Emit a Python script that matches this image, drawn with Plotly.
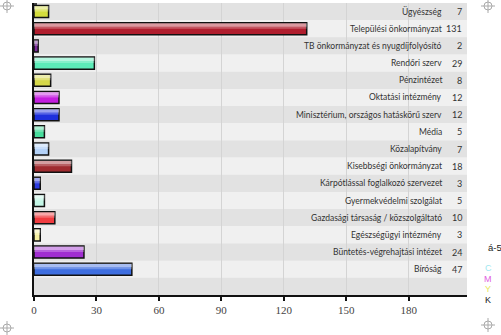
import plotly.graph_objects as go

categories = [
    "Ügyészség", "Települési önkormányzat", "TB önkormányzat és nyugdíjfolyósító",
    "Rendőri szerv", "Pénzintézet", "Oktatási intézmény",
    "Minisztérium, országos hatáskörű szerv", "Média", "Közalapítvány",
    "Kisebbségi önkormányzat", "Kárpótlással foglalkozó szervezet",
    "Gyermekvédelmi szolgálat", "Gazdasági társaság / közszolgáltató",
    "Egészségügyi intézmény", "Büntetés-végrehajtási intézet", "Bíróság",
]
values = [7, 131, 2, 29, 8, 12, 12, 5, 7, 18, 3, 5, 10, 3, 24, 47]
bar_colors = [
    "#d4dc3c", "#b01e2e", "#7a2a9a", "#5cecb8", "#d6d84a", "#c41ee0",
    "#1e30dc", "#48dc9c", "#b4d2f8", "#a02c30", "#2c3ce0", "#c4f6e6",
    "#f03c40", "#f6f0a0", "#a02ed0", "#3e6ee0",
]
tick_vals = [0, 30, 60, 90, 120, 150, 180]

idx = list(range(len(categories)))
n_bands = len(categories) + 1

L, R, T, B = 34, 467, 3, 295
W, H = R - L, B - T


def px(x):
    return (x - L) / W


def py(y):
    return (B - y) / H


fig = go.Figure()
fig.add_trace(go.Bar(
    x=values, y=idx, orientation="h", width=0.7,
    marker=dict(color=bar_colors, line=dict(color="#111", width=1.5)),
    hoverinfo="skip",
))
fig.add_trace(go.Bar(
    x=values, y=idx, orientation="h", width=0.2, offset=-0.32,
    marker=dict(color="rgba(255,255,255,0.55)", line=dict(width=0)),
    hoverinfo="skip",
))
fig.add_trace(go.Bar(
    x=values, y=idx, orientation="h", width=0.12, offset=-0.12,
    marker=dict(color="rgba(255,255,255,0.25)", line=dict(width=0)),
    hoverinfo="skip",
))

shapes = []
for i in range(n_bands):
    shapes.append(dict(
        type="rect", xref="paper", yref="y", x0=0, x1=1, y0=i - 0.5, y1=i + 0.5,
        fillcolor="#e2e2e2" if i % 2 == 0 else "#f0f0f0",
        line=dict(width=0), layer="below",
    ))
# small tick at top of y axis
shapes.append(dict(type="line", xref="paper", yref="paper",
                   x0=px(32), x1=px(37), y0=py(4), y1=py(4),
                   line=dict(color="#111", width=1.5)))
# print marks (crosshairs)
for cx, cy in [(7, 6), (488, 6), (7, 328), (488, 325)]:
    shapes.append(dict(type="circle", xref="paper", yref="paper",
                       x0=px(cx - 4), x1=px(cx + 4), y0=py(cy - 4), y1=py(cy + 4),
                       line=dict(color="#aaa", width=1)))
    shapes.append(dict(type="line", xref="paper", yref="paper",
                       x0=px(cx - 7), x1=px(cx + 7), y0=py(cy), y1=py(cy),
                       line=dict(color="#aaa", width=1)))
    shapes.append(dict(type="line", xref="paper", yref="paper",
                       x0=px(cx), x1=px(cx), y0=py(cy - 7), y1=py(cy + 7),
                       line=dict(color="#aaa", width=1)))

label_font = dict(family="Lato", size=8.5, color="#333")
value_font = dict(family="Lato", size=9, color="#333")
annotations = []
for i, (c, v) in enumerate(zip(categories, values)):
    annotations.append(dict(x=px(444), xref="paper", y=i, yref="y", text=c,
                            xanchor="right", yanchor="middle", showarrow=False,
                            font=label_font))
    annotations.append(dict(x=px(464), xref="paper", y=i, yref="y", text=str(v),
                            xanchor="right", yanchor="middle", showarrow=False,
                            font=value_font))

annotations.append(dict(x=px(486), xref="paper", y=py(247), yref="paper", text="á-5",
                        xanchor="left", yanchor="middle", showarrow=False,
                        font=dict(family="Liberation Sans", size=9.5, color="#222")))
for t, col, yy in [("C", "#9ee8f0", 268), ("M", "#e060e0", 279), ("Y", "#e8e860", 289), ("K", "#222", 300)]:
    annotations.append(dict(x=px(488), xref="paper", y=py(yy), yref="paper", text=t,
                            xanchor="center", yanchor="middle", showarrow=False,
                            font=dict(family="Liberation Sans", size=9, color=col)))

fig.update_layout(
    width=501, height=335,
    margin=dict(l=L, r=501 - R, t=T, b=335 - B),
    paper_bgcolor="white", plot_bgcolor="#f0f0f0",
    barmode="overlay", showlegend=False,
    shapes=shapes, annotations=annotations,
    xaxis=dict(range=[0, 208], tickvals=tick_vals, showgrid=True, gridcolor="#d4d4d4",
               gridwidth=1, zeroline=False, showline=True, linecolor="#111", linewidth=2,
               ticks="outside", ticklen=4, tickwidth=2, tickcolor="#111",
               tickfont=dict(family="Liberation Serif", size=11, color="#444")),
    yaxis=dict(range=[n_bands - 0.5, -0.5], showticklabels=False, showgrid=False,
               zeroline=False, showline=True, linecolor="#111", linewidth=2, ticks=""),
)

fig.write_html("out.html")
